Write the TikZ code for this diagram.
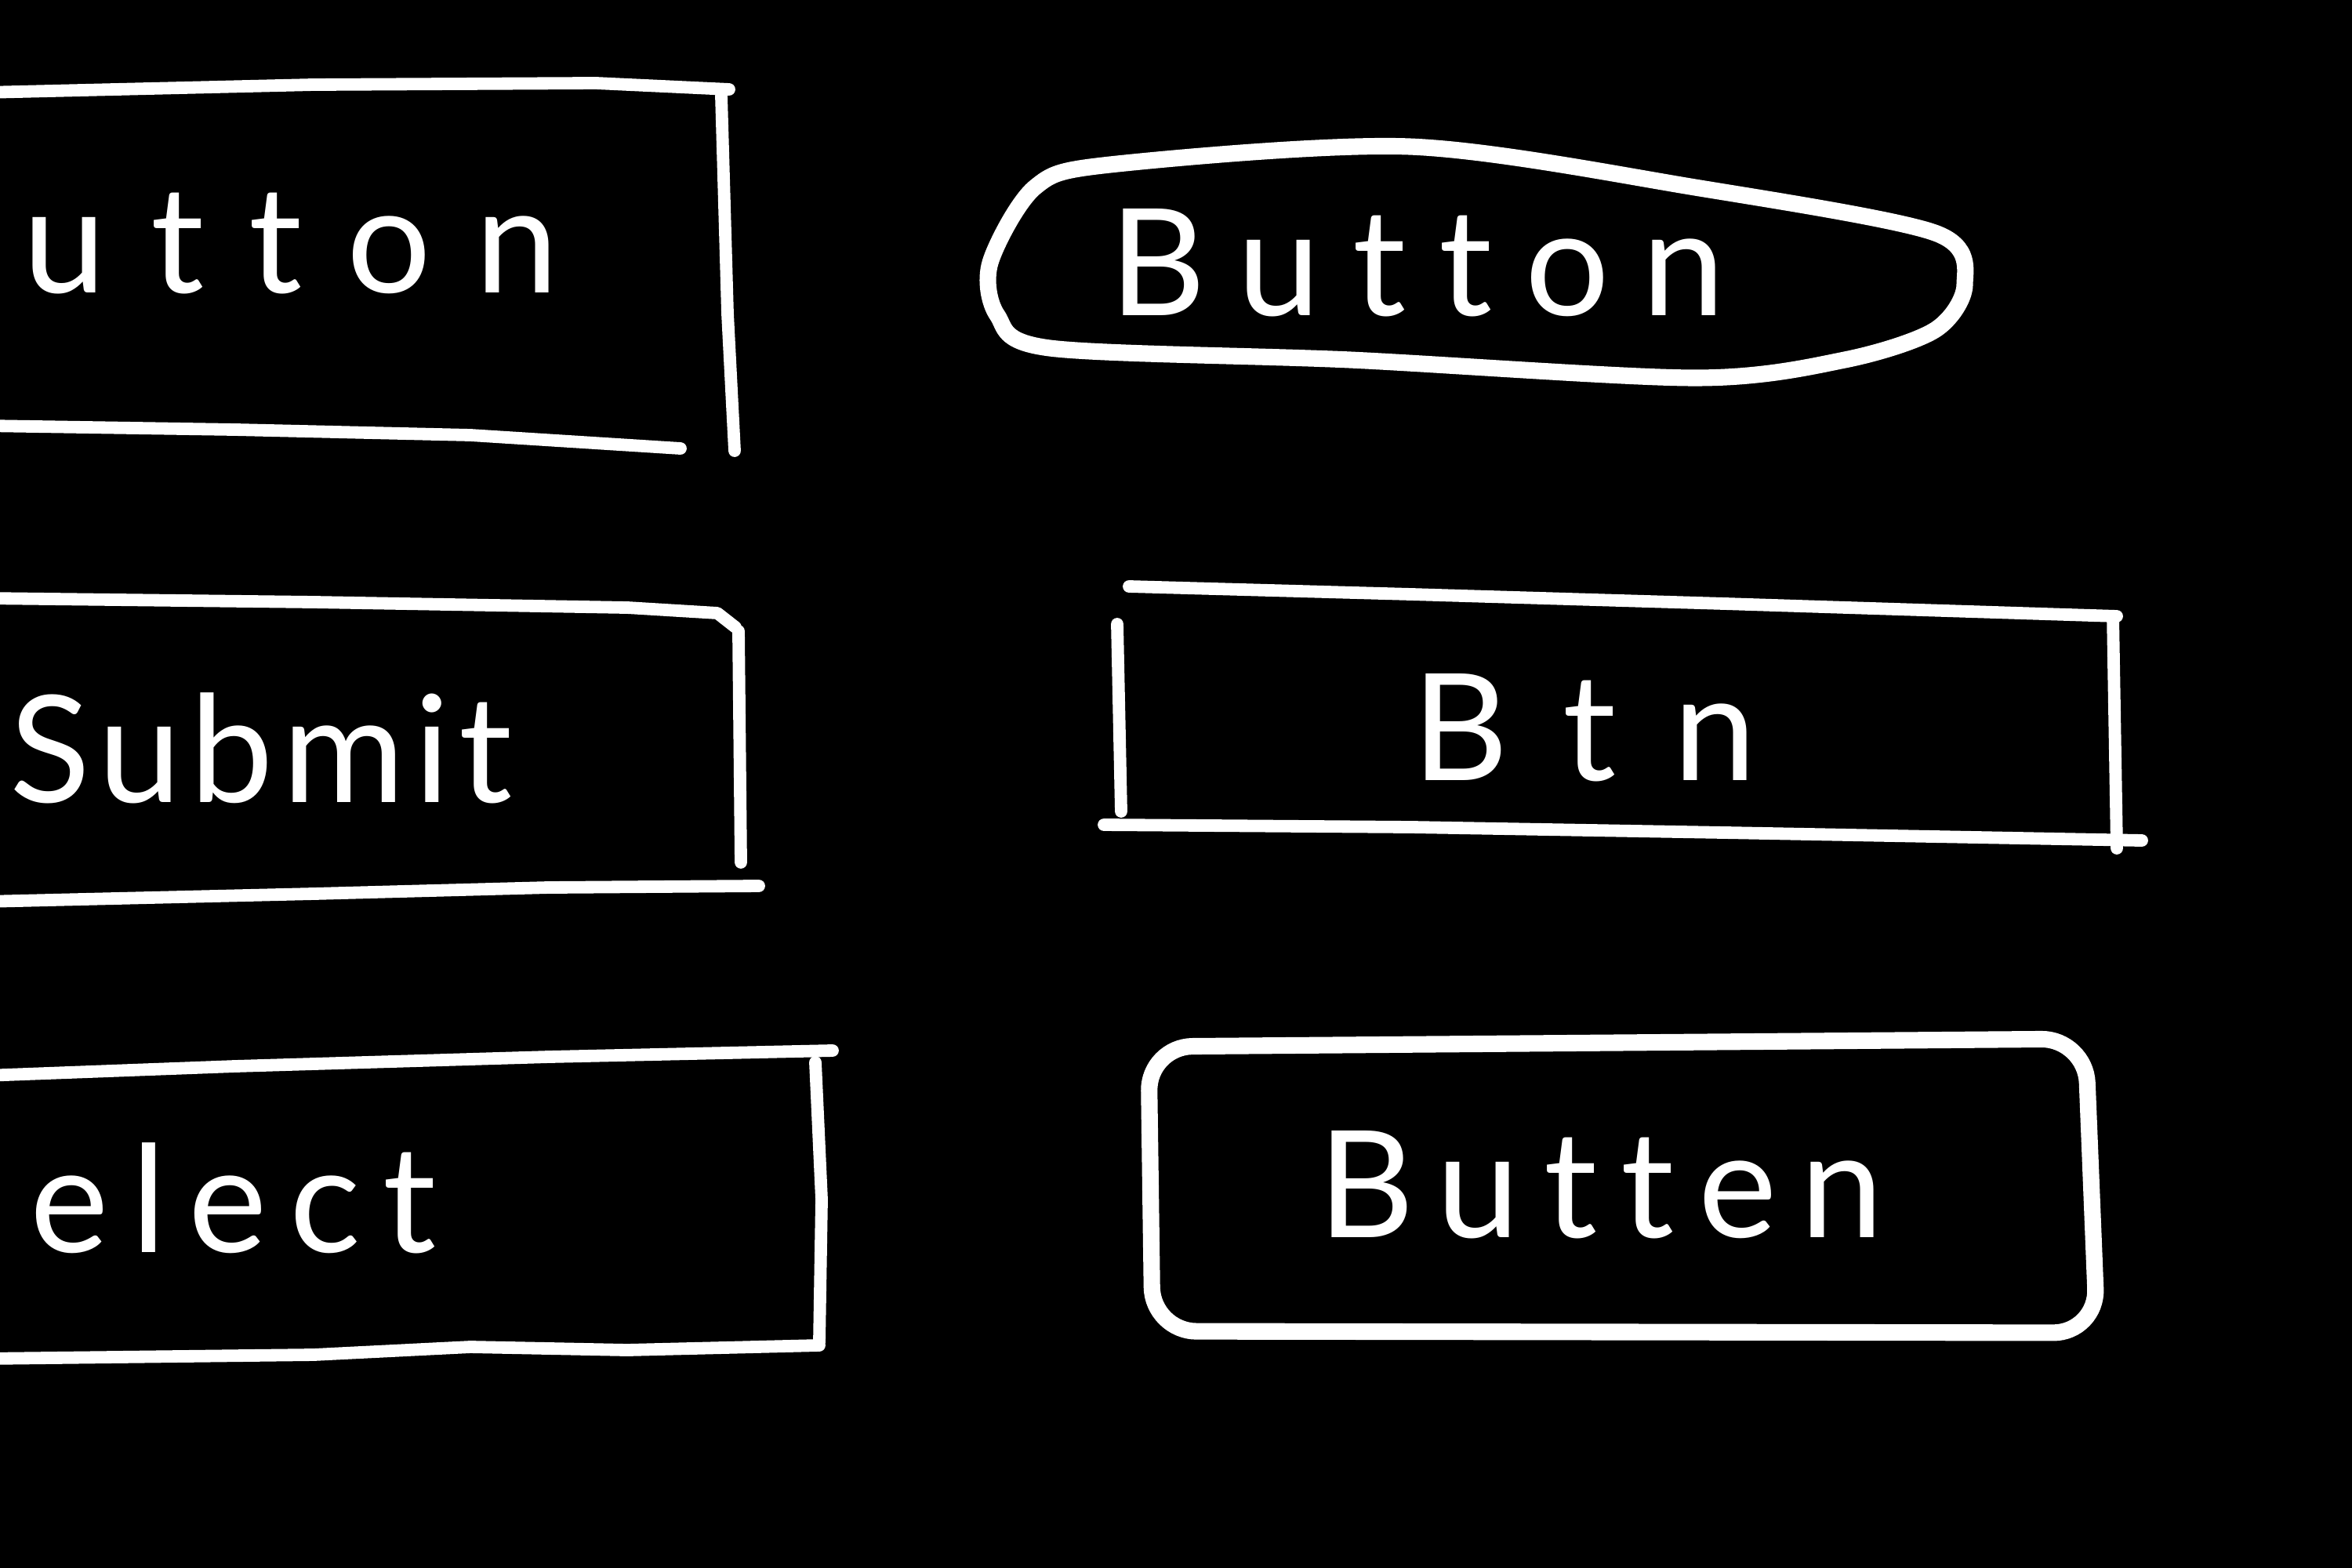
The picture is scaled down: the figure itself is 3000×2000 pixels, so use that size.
\documentclass[tikz,border=0pt]{standalone}
\usepackage{fontspec}
\usepackage{tikz}
\newfontfamily\handfont[Ligatures=NoCommon]{Lato}
\newcommand\handsize[1]{\handfont\fontsize{54}{60}\selectfont\addfontfeatures{LetterSpace=#1}}

\begin{document}
\begin{tikzpicture}[
    x=0.01cm, y=-0.01cm,
    sketch/.style={draw=white, line width=4.5pt, line cap=round, line join=round},
    thicksketch/.style={sketch, line width=6pt},
    word/.style={text=white, inner sep=0pt, anchor=base}
]
\fill[black] (0,0) rectangle (3000,2000);
\useasboundingbox (0,0) rectangle (3000,2000);

% Left column: boxes running off the page
\draw[sketch] (-20,118) -- (400,108) -- (760,106) -- (930,114);
\draw[sketch] (920,122) -- (928,400) -- (937,575);
\draw[sketch] (-20,543) -- (300,548) -- (600,555) -- (868,572);
\node[word, anchor=base west, font=\handsize{30}] (utton) at (29,373) {utton};

\draw[sketch] (-20,763) -- (400,768) -- (800,775) -- (915,782) -- (938,800);
\draw[sketch] (942,805) -- (945,1100);
\draw[sketch] (-20,1150) -- (400,1140) -- (700,1132) -- (968,1130);
\node[word, anchor=base west, font=\handsize{6}] (submit) at (12,1023) {Submit};

\draw[sketch] (-20,1372) -- (300,1360) -- (700,1348) -- (1062,1340);
\draw[sketch] (1040,1355) -- (1048,1530) -- (1045,1712);
\draw[sketch] (-20,1733) -- (400,1728) -- (600,1718) -- (800,1722) -- (1045,1716);
\node[word, anchor=base west, font=\handsize{15}] (elect) at (38,1597) {elect};

% Right column
\draw[thicksketch] plot[smooth cycle] coordinates {
    (1263,335) (1320,239) (1416,210) (1798,187) (2162,239) (2468,297)
    (2506,363) (2468,421) (2353,459) (2162,482) (1722,459) (1339,444) (1272,402)};
\node[word, font=\handsize{22}] (button) at (1808,402) {Button};

\draw[sketch] (1440,748) -- (1800,758) -- (2200,770) -- (2700,786);
\draw[sketch] (1425,796) -- (1430,1035);
\draw[sketch] (2695,786) -- (2700,1082);
\draw[sketch] (1408,1052) -- (1800,1055) -- (2200,1062) -- (2732,1072);
\node[word, font=\handsize{38}] (btn) at (2021,995) {Btn};

\draw[thicksketch, rounded corners=16pt] (1465,1335) -- (2660,1325) -- (2675,1700) -- (1470,1698) -- cycle;
\node[word, font=\handsize{16}] (butten) at (2042,1578) {Butten};

\end{tikzpicture}
\end{document}
